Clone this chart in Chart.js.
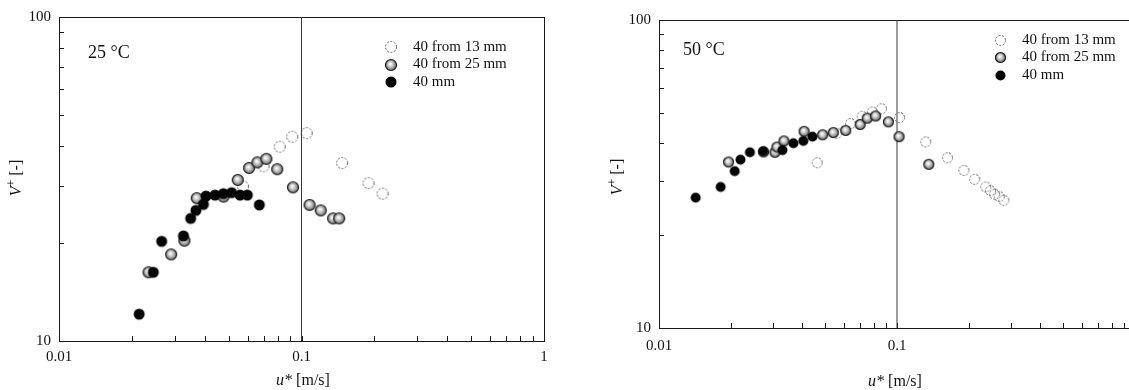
<!DOCTYPE html>
<html>
<head>
<meta charset="utf-8">
<title>V+ versus u*</title>
<script src="https://cdn.jsdelivr.net/npm/chart.js@4.4.1/dist/chart.umd.min.js"></script>
<style>
  html, body { margin: 0; padding: 0; background: #fff; overflow: hidden; }
  #wrap { position: relative; width: 1129px; height: 390px; overflow: hidden; }
  canvas { position: absolute; top: 0; }
  #left { left: 0; }
  #right { left: 560px; }
</style>
</head>
<body>
<div id="wrap">
  <canvas id="left" width="560" height="390"></canvas>
  <canvas id="right" width="600" height="390"></canvas>
</div>
<script>
// 25 °C runs
const u25From13 = [0.0813, 0.0916, 0.105, 0.147, 0.189, 0.216, 0.0697, 0.0574];
const v25From13 = [39.8, 42.7, 43.8, 35.4, 30.7, 28.5, 34.6, 30.0];
const u25From25 = [0.0234, 0.0290, 0.0329, 0.0370, 0.0477, 0.0546, 0.0608, 0.0658, 0.0716, 0.0794, 0.0922, 0.108, 0.120, 0.135, 0.143];
const v25From25 = [16.3, 18.5, 20.4, 27.6, 27.9, 31.4, 34.2, 35.6, 36.5, 33.9, 29.8, 26.3, 25.3, 23.9, 23.9];
const u25Direct = [0.0214, 0.0245, 0.0265, 0.0326, 0.0349, 0.0367, 0.0394, 0.0404, 0.0440, 0.0476, 0.0515, 0.0558, 0.0598, 0.0670];
const v25Direct = [12.1, 16.3, 20.3, 21.1, 23.9, 25.3, 26.4, 28.0, 28.2, 28.5, 28.7, 28.2, 28.2, 26.3];

// 50 °C runs
const u50From13 = [0.0462, 0.0558, 0.0638, 0.0714, 0.0788, 0.0860, 0.1025, 0.132, 0.163, 0.191, 0.212, 0.236, 0.247, 0.257, 0.269, 0.281];
const v50From13 = [34.4, 42.9, 46.1, 48.7, 50.3, 51.5, 48.2, 40.2, 35.7, 32.5, 30.4, 28.7, 27.9, 27.2, 26.7, 26.0];
const u50From25 = [0.0196, 0.0275, 0.0307, 0.0313, 0.0335, 0.0407, 0.0487, 0.0540, 0.0609, 0.0700, 0.0750, 0.0813, 0.0920, 0.102, 0.136];
const v50From25 = [34.6, 37.3, 37.2, 38.7, 40.5, 43.5, 42.4, 43.1, 43.8, 45.8, 48.0, 48.8, 46.7, 41.8, 34.0];
const u50Direct = [0.01426, 0.01816, 0.0208, 0.0220, 0.0241, 0.0274, 0.0330, 0.0367, 0.0404, 0.0441];
const v50Direct = [26.5, 28.7, 32.3, 35.2, 37.2, 37.5, 37.8, 39.8, 40.5, 41.8];

const seriesNames = ['40 from 13 mm', '40 from 25 mm', '40 mm'];
const xRange = [0.01, 1];
const yRange = [10, 100];
const transitionU = 0.1;

const serif = '"Liberation Serif", "Times New Roman", serif';

function pairs(xs, ys) {
  return xs.map((x, i) => ({ x: x, y: ys[i] }));
}

// 1..9 within each decade, used for the small inward ticks
function decadeTicks(min, max) {
  const out = [];
  for (let d = min; d < max * 0.999; d *= 10) {
    for (let k = 1; k < 10; k++) out.push(+(d * k).toPrecision(6));
  }
  out.push(max);
  return out.map(v => ({ value: v }));
}

function isDecade(v) {
  const l = Math.log10(v);
  return Math.abs(l - Math.round(l)) < 1e-6;
}

// marker bitmaps: solid, shaded sphere, dashed hollow
function makeDot(kind, d) {
  const c = document.createElement('canvas');
  c.width = c.height = d + 2;
  const g = c.getContext('2d');
  const m = (d + 2) / 2, r = d / 2;
  g.beginPath();
  g.arc(m, m, r - 0.5, 0, Math.PI * 2);
  if (kind === 'solid') {
    g.fillStyle = '#050505';
    g.fill();
  } else if (kind === 'sphere') {
    const grad = g.createRadialGradient(m - r * 0.15, m - r * 0.2, 0.3, m, m, r);
    grad.addColorStop(0, '#ffffff');
    grad.addColorStop(0.35, '#d0d0d0');
    grad.addColorStop(0.8, '#808080');
    grad.addColorStop(1, '#3a3a3a');
    g.fillStyle = grad;
    g.fill();
    g.strokeStyle = '#1e1e1e';
    g.lineWidth = 1.2;
    g.stroke();
  } else {
    g.setLineDash([2, 1.5]);
    g.strokeStyle = '#5a5a5a';
    g.lineWidth = 1;
    g.stroke();
  }
  return c;
}

const panelDecor = {
  id: 'panelDecor',
  beforeDatasetsDraw(chart) {
    const ctx = chart.ctx, a = chart.chartArea;
    const xs = chart.scales.x, ys = chart.scales.y;
    ctx.save();
    ctx.strokeStyle = '#1a1a1a';
    ctx.lineWidth = 1;
    ctx.strokeRect(Math.round(a.left) + 0.5, Math.round(a.top) + 0.5,
      Math.round(a.right - a.left), Math.round(a.bottom - a.top));
    ctx.beginPath();
    xs.ticks.forEach(t => {
      const px = Math.round(xs.getPixelForValue(t.value)) + 0.5;
      ctx.moveTo(px, a.bottom);
      ctx.lineTo(px, a.bottom - 5);
    });
    ys.ticks.forEach(t => {
      const py = Math.round(ys.getPixelForValue(t.value)) + 0.5;
      ctx.moveTo(a.left, py);
      ctx.lineTo(a.left + 5, py);
    });
    ctx.stroke();
    ctx.restore();
  },
  afterDraw(chart, args, opts) {
    const ctx = chart.ctx;
    ctx.save();
    ctx.fillStyle = '#111';
    ctx.textBaseline = 'middle';
    ctx.textAlign = 'left';

    // temperature tag
    ctx.font = '18px ' + serif;
    ctx.fillText(opts.tag, opts.tagX, opts.tagY);

    // legend
    ctx.font = '15px ' + serif;
    chart.data.datasets.filter(d => d.label).forEach((d, i) => {
      const y = opts.legendY + i * opts.legendGap;
      const img = d.pointStyle;
      ctx.drawImage(img, Math.round(opts.legendX - img.width / 2), Math.round(y - img.height / 2));
      ctx.fillText(d.label, opts.legendX + 22, y);
    });

    // x title: u* [m/s]
    ctx.font = 'italic 16px ' + serif;
    const w1 = ctx.measureText('u*').width;
    ctx.font = '16px ' + serif;
    const w2 = ctx.measureText(' [m/s]').width;
    let x0 = opts.xTitleX - (w1 + w2) / 2;
    ctx.font = 'italic 16px ' + serif;
    ctx.fillText('u*', x0, opts.xTitleY);
    ctx.font = '16px ' + serif;
    ctx.fillText(' [m/s]', x0 + w1, opts.xTitleY);

    // y title: V+ [-]
    ctx.translate(opts.yTitleX, opts.yTitleY);
    ctx.rotate(-Math.PI / 2);
    ctx.font = 'italic 16px ' + serif;
    const a1 = ctx.measureText('V').width;
    ctx.font = '12px ' + serif;
    const a2 = ctx.measureText('+').width;
    ctx.font = '16px ' + serif;
    const a3 = ctx.measureText(' [-]').width;
    let s = -(a1 + a2 + a3) / 2;
    ctx.font = 'italic 16px ' + serif;
    ctx.fillText('V', s, 0);
    ctx.font = '12px ' + serif;
    ctx.fillText('+', s + a1, -5);
    ctx.font = '16px ' + serif;
    ctx.fillText(' [-]', s + a1 + a2, 0);
    ctx.restore();
  }
};

function makePanel(id, cfg) {
  const dots = [makeDot('hollow', cfg.dot), makeDot('sphere', cfg.dot), makeDot('solid', cfg.dot)];
  const series = [pairs(cfg.u13, cfg.v13), pairs(cfg.u25, cfg.v25), pairs(cfg.u40, cfg.v40)];

  const datasets = series.map((pts, i) => ({
    label: seriesNames[i],
    data: pts,
    pointStyle: dots[i],
    pointRadius: cfg.dot / 2,
    order: 3 - i
  }));
  datasets.push({
    label: '',
    data: [{ x: transitionU, y: yRange[0] }, { x: transitionU, y: yRange[1] }],
    showLine: true,
    borderColor: '#3a3a3a',
    borderWidth: 1,
    pointRadius: 0,
    order: 10
  });

  const tickFont = { family: serif, size: 15 };

  return new Chart(document.getElementById(id), {
    type: 'scatter',
    data: { datasets: datasets },
    plugins: [panelDecor],
    options: {
      responsive: false,
      animation: false,
      events: [],
      layout: { padding: cfg.padding },
      plugins: {
        legend: { display: false },
        tooltip: { enabled: false },
        panelDecor: cfg.decor
      },
      scales: {
        x: {
          type: 'logarithmic',
          min: xRange[0],
          max: xRange[1],
          grid: { display: false, drawTicks: false },
          border: { display: false },
          afterBuildTicks: s => { s.ticks = decadeTicks(xRange[0], xRange[1]); },
          afterFit: s => { s.height = cfg.xAxisHeight; },
          ticks: {
            autoSkip: false,
            maxRotation: 0,
            padding: cfg.xPad,
            color: '#111',
            font: tickFont,
            callback: v => isDecade(v) ? String(+v.toPrecision(3)) : ''
          }
        },
        y: {
          type: 'logarithmic',
          min: yRange[0],
          max: yRange[1],
          grid: { display: false, drawTicks: false },
          border: { display: false },
          afterBuildTicks: s => { s.ticks = decadeTicks(yRange[0], yRange[1]); },
          afterFit: s => { s.width = cfg.yAxisWidth; },
          ticks: {
            autoSkip: false,
            padding: 8,
            color: '#111',
            font: tickFont,
            callback: v => isDecade(v) ? String(v) : ''
          }
        }
      }
    }
  });
}

makePanel('left', {
  u13: u25From13, v13: v25From13,
  u25: u25From25, v25: v25From25,
  u40: u25Direct, v40: v25Direct,
  dot: 12,
  padding: { top: 15, right: 16, left: 0, bottom: 0 },
  yAxisWidth: 59,
  xAxisHeight: 49,
  xPad: 7,
  decor: {
    tag: '25 °C', tagX: 88, tagY: 53,
    legendX: 391, legendY: 47, legendGap: 17.5,
    xTitleX: 303, xTitleY: 381,
    yTitleX: 17, yTitleY: 178
  }
});

makePanel('right', {
  u13: u50From13, v13: v50From13,
  u25: u50From25, v25: v50From25,
  u40: u50Direct, v40: v50Direct,
  dot: 11,
  padding: { top: 20, right: 25, left: 0, bottom: 0 },
  yAxisWidth: 99,
  xAxisHeight: 62,
  xPad: 9,
  decor: {
    tag: '50 °C', tagX: 123, tagY: 50,
    legendX: 440, legendY: 40, legendGap: 17.5,
    xTitleX: 335, xTitleY: 382,
    yTitleX: 58, yTitleY: 177
  }
});
</script>
</body>
</html>
